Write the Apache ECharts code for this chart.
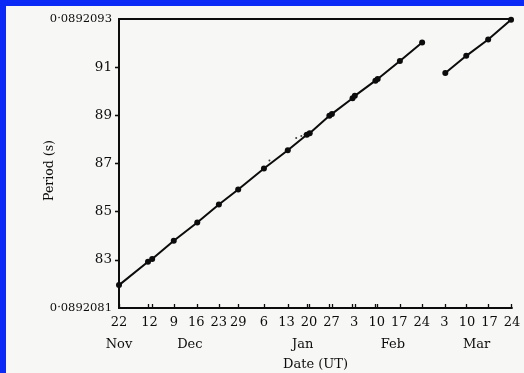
<!DOCTYPE html>
<html><head><meta charset="utf-8">
<script src="https://cdn.jsdelivr.net/npm/echarts@6/dist/echarts.min.js"></script>
<style>html,body{margin:0;padding:0;background:#f7f7f6}#c{width:524px;height:373px}</style>
</head><body><div id="c"></div><script>
// Days since 1968 Nov 22 (UT); period in units of 1e-7 s (0.08920xx)
const preDays    = [0, 9, 10.3, 17, 24.3, 31, 37, 45, 52.4, 58.3, 59.2, 65.3, 66.1, 72.5, 73.2, 79.6, 80.3, 87.2, 94.1];
const prePeriod  = [81.95, 82.92, 83.03, 83.79, 84.55, 85.30, 85.92, 86.79, 87.55, 88.19, 88.26, 88.98, 89.06, 89.71, 89.81, 90.44, 90.51, 91.26, 92.02];
const postDays   = [101.3, 107.8, 114.6, 121.7];
const postPeriod = [90.76, 91.47, 92.15, 92.97];
const speckDays   = [46.7, 55.0, 56.6, 57.6];
const speckPeriod = [87.12, 88.06, 88.14, 88.20];
const tickDays   = [0, 9.5, 17, 24, 31, 37, 45, 52, 59, 66, 73, 80, 87, 94, 101, 108, 115, 122];
const tickLabels = ['22','12','9','16','23','29','6','13','20','27','3','10','17','24','3','10','17','24'];
const monthDays   = [0, 22, 57, 85, 111];
const monthLabels = ['Nov','Dec','Jan','Feb','Mar'];
const periodTicks  = [81, 83, 85, 87, 89, 91, 93];
const periodLabels = ['0·0892081','83','85','87','89','91','0·0892093'];

const FONT = 'DejaVu Serif';
const INK = '#0c0c0c';
const zip = (a, b) => a.map((v, i) => [v, b[i]]);
const nearest = (arr, v) => { let bi = 0; arr.forEach((x, i) => { if (Math.abs(x - v) < Math.abs(arr[bi] - v)) bi = i; }); return bi; };
const obsDays = preDays.concat(postDays);

const chart = echarts.init(document.getElementById('c'), null, {renderer: 'canvas'});
chart.setOption({
  animation: false,
  backgroundColor: '#f7f7f6',
  graphic: [
    {type: 'rect', left: 0, top: 0, shape: {width: 524, height: 6}, style: {fill: '#0b2af5'}, silent: true},
    {type: 'rect', left: 0, top: 0, shape: {width: 6, height: 373}, style: {fill: '#0b2af5'}, silent: true}
  ],
  grid: {left: 119, right: 12, top: 19, bottom: 65, containLabel: false, outerBoundsMode: 'none'},
  xAxis: [
    {
      type: 'value', min: 0, max: 122, position: 'bottom',
      axisLine: {lineStyle: {color: INK, width: 1.8}},
      axisTick: {inside: true, length: 4, lineStyle: {color: INK, width: 1.3}, customValues: obsDays},
      axisLabel: {
        customValues: tickDays, margin: 8, color: INK, fontFamily: FONT, fontSize: 13,
        formatter: v => tickLabels[nearest(tickDays, v)]
      },
      splitLine: {show: false},
      name: 'Date (UT)', nameLocation: 'middle', nameGap: 50, nameMoveOverlap: false,
      nameTextStyle: {color: INK, fontFamily: FONT, fontSize: 13}
    },
    {
      type: 'value', min: 0, max: 122, position: 'bottom', offset: 22,
      axisLine: {show: false}, axisTick: {show: false},
      axisLabel: {
        customValues: monthDays, margin: 8, color: INK, fontFamily: FONT, fontSize: 13,
        formatter: v => monthLabels[nearest(monthDays, v)]
      },
      splitLine: {show: false}
    },
    {
      type: 'value', min: 0, max: 122, position: 'top',
      axisLine: {lineStyle: {color: INK, width: 1.8}},
      axisTick: {show: false}, axisLabel: {show: false}, splitLine: {show: false}
    }
  ],
  yAxis: [
    {
      type: 'value', min: 81, max: 93, position: 'left',
      axisLine: {lineStyle: {color: INK, width: 1.8}},
      axisTick: {inside: false, length: 4, lineStyle: {color: INK, width: 1.3}, customValues: [83, 85, 87, 89, 91]},
      axisLabel: {
        customValues: periodTicks, margin: 7, color: INK, fontFamily: FONT,
        formatter: v => {
          const s = periodLabels[nearest(periodTicks, v)];
          return s.length > 3 ? '{s|' + s + '}' : '{b|' + s + '}';
        },
        rich: {
          s: {fontFamily: FONT, fontSize: 11.5, color: INK},
          b: {fontFamily: FONT, fontSize: 13.5, color: INK}
        }
      },
      splitLine: {show: false},
      name: 'Period (s)', nameLocation: 'middle', nameGap: 63, nameRotate: 90, nameMoveOverlap: false,
      nameTextStyle: {color: INK, fontFamily: FONT, fontSize: 12.5, padding: [0, 14, 0, 0]}
    },
    {
      type: 'value', min: 81, max: 93, position: 'right',
      axisLine: {lineStyle: {color: INK, width: 1.8}},
      axisTick: {inside: true, length: 4, lineStyle: {color: INK, width: 1.3}, customValues: [83, 85, 87, 89, 91]},
      axisLabel: {show: false}, splitLine: {show: false}
    }
  ],
  series: [
    {
      type: 'line', name: 'before', data: zip(preDays, prePeriod), clip: false,
      symbol: 'circle', symbolSize: 6, showAllSymbol: true,
      itemStyle: {color: INK}, lineStyle: {color: INK, width: 2}
    },
    {
      type: 'line', name: 'after', data: zip(postDays, postPeriod), clip: false,
      symbol: 'circle', symbolSize: 6, showAllSymbol: true,
      itemStyle: {color: INK}, lineStyle: {color: INK, width: 2}
    },
    {
      type: 'scatter', name: 'specks', data: zip(speckDays, speckPeriod),
      symbol: 'circle', symbolSize: 2, itemStyle: {color: INK}
    }
  ]
});
</script></body></html>
